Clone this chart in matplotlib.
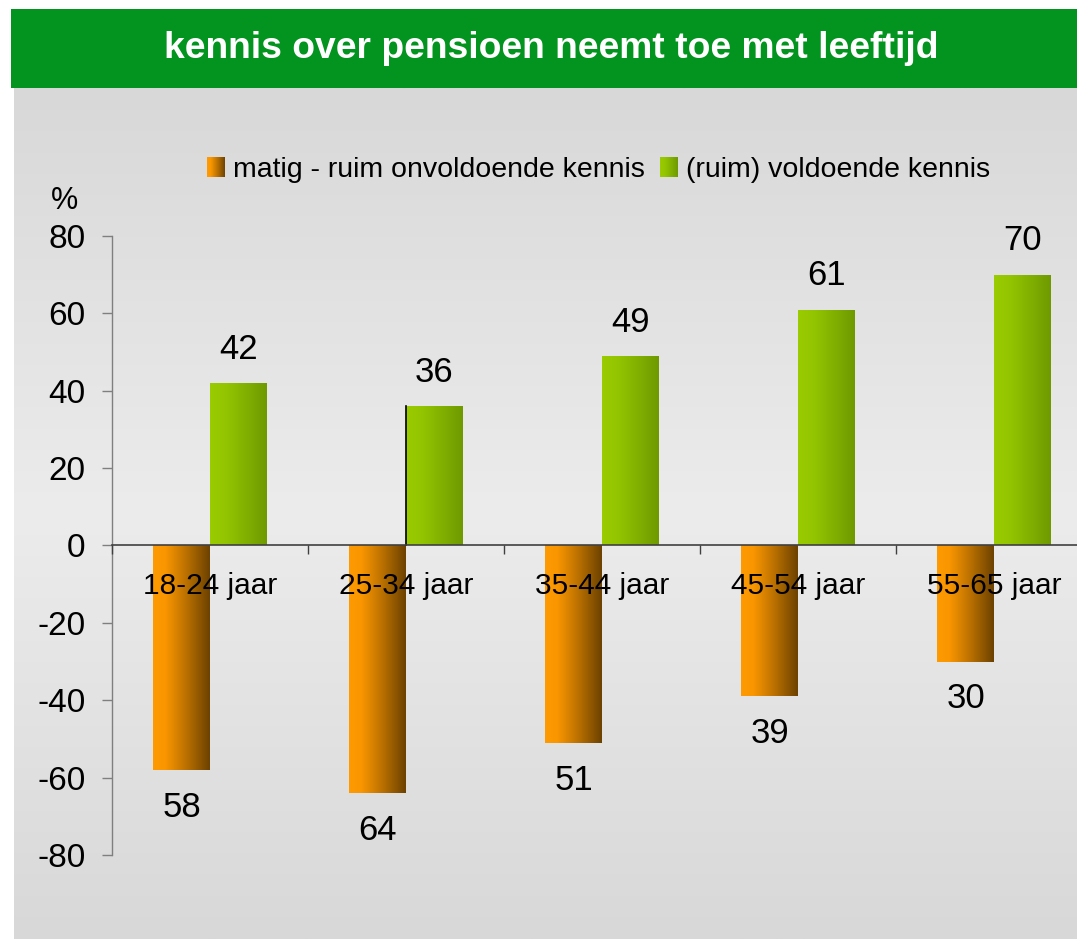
import numpy as np
import matplotlib
matplotlib.use("Agg")
import matplotlib.pyplot as plt
from matplotlib.patches import Rectangle
from matplotlib.colors import LinearSegmentedColormap

categories = ["18-24 jaar", "25-34 jaar", "35-44 jaar", "45-54 jaar", "55-65 jaar"]
insufficient = [58, 64, 51, 39, 30]
sufficient = [42, 36, 49, 61, 70]
series_names = ["matig - ruim onvoldoende kennis", "(ruim) voldoende kennis"]
yticks = [-80, -60, -40, -20, 0, 20, 40, 60, 80]
title = "kennis over pensioen neemt toe met leeftijd"

plt.rcParams['font.family'] = ['Liberation Sans', 'DejaVu Sans']

W, H = 1077, 939
fig = plt.figure(figsize=(W / 100, H / 100), dpi=100)
fig.patch.set_facecolor('white')


def fx(px):
    return px / W


def fy(py):
    return 1 - py / H


# gray gradient panel
bg = fig.add_axes([fx(14), 0, 1 - fx(14), fy(88)], zorder=-5)
bg.axis('off')
t = np.linspace(0, 1, 400)
lvl = np.interp(t, [0, 0.5, 1], [216, 236, 216]) / 255.0
bgimg = np.repeat(lvl[:, None], 2, axis=1)
bg.imshow(np.dstack([bgimg, bgimg, bgimg]), aspect='auto', extent=[0, 1, 0, 1])
bg.set_xlim(0, 1)
bg.set_ylim(0, 1)

# title banner
fig.patches.append(Rectangle((fx(11), fy(88)), 1 - fx(11), (88 - 9) / H,
                             transform=fig.transFigure, facecolor='#02941f',
                             edgecolor='none', zorder=-4))
fig.text(fx(551), fy(49), title, ha='center', va='center', color='white',
         fontsize=26.8, fontweight='bold')

ax = fig.add_axes([fx(112), fy(855), 980 / W, (855 - 236) / H])
ax.set_facecolor('none')

orange_cm = LinearSegmentedColormap.from_list(
    'o', [(0, '#ff9a00'), (0.22, '#f99600'), (0.6, '#b86f00'), (1, '#6c4200')])
green_cm = LinearSegmentedColormap.from_list(
    'g', [(0, '#9acc00'), (0.3, '#93c400'), (1, '#6e9a00')])

x = np.arange(len(categories))
w = 0.29
neg = [-v for v in insufficient]
bars_o = ax.bar(x - w / 2, neg, w, color='#ff9900', zorder=1)
bars_g = ax.bar(x + w / 2, sufficient, w, color='#99cc00', zorder=1)

gradient = np.linspace(0, 1, 256)[None, :]


def grad_fill(bars, cmap):
    for b in bars:
        bx, by, bw, bh = b.get_x(), b.get_y(), b.get_width(), b.get_height()
        im = ax.imshow(gradient, cmap=cmap, aspect='auto',
                       extent=[bx, bx + bw, min(by, by + bh), max(by, by + bh)],
                       zorder=1.5, interpolation='bicubic')
        im.set_clip_path(b)
        b.set_facecolor('none')


grad_fill(bars_o, orange_cm)
grad_fill(bars_g, green_cm)

# thin dark edge seen on left of second green bar
b2 = bars_g[1]
ax.plot([b2.get_x(), b2.get_x()], [0, b2.get_height()], color='black', lw=1.2, zorder=2)

ax.set_xlim(-0.5, len(categories) - 0.5)
ax.set_ylim(-80, 80)

# value labels
for b, v in zip(bars_g, sufficient):
    ax.annotate(str(v), (b.get_x() + b.get_width() / 2, v), xytext=(0, 17.5),
                textcoords='offset points', ha='center', va='baseline', fontsize=25)
for b, v in zip(bars_o, insufficient):
    ax.annotate(str(v), (b.get_x() + b.get_width() / 2, -v), xytext=(0, -15),
                textcoords='offset points', ha='center', va='top', fontsize=25)

# spines
for s in ['top', 'right']:
    ax.spines[s].set_visible(False)
ax.spines['left'].set_color('#7f7f7f')
ax.spines['left'].set_linewidth(1.0)
ax.spines['bottom'].set_position(('data', 0))
ax.spines['bottom'].set_color('#404040')
ax.spines['bottom'].set_linewidth(1.2)

ax.set_yticks(yticks)
ax.set_yticklabels([str(v) for v in yticks])
ax.tick_params(axis='y', direction='out', length=7.2, width=1.0, color='#7f7f7f',
               labelsize=24, pad=12)
ax.set_xticks(x)
ax.set_xticklabels(categories)
ax.tick_params(axis='x', which='major', length=0, labelsize=21.5, pad=19)
ax.set_xticks(np.arange(-0.5, len(categories), 1.0), minor=True)
ax.tick_params(axis='x', which='minor', direction='out', length=6.5, width=1.0,
               color='#404040')
ax.xaxis.set_zorder(3)

fig.text(fx(64), fy(201), '%', ha='center', va='center', fontsize=22)

# legend
handles = [Rectangle((0, 0), 1, 1, facecolor='#ff9900'),
           Rectangle((0, 0), 1, 1, facecolor='#99cc00')]
leg = fig.legend(handles, series_names, loc='center left',
                 bbox_to_anchor=(fx(207), fy(170)), bbox_transform=fig.transFigure,
                 ncol=2, frameon=False, fontsize=20.5, borderpad=0, borderaxespad=0,
                 handlelength=0.63, handleheight=0.67, handletextpad=0.28,
                 columnspacing=0.55)

fig.canvas.draw()
for p, cm in zip(leg.get_patches(), [orange_cm, green_cm]):
    bb = p.get_window_extent().transformed(fig.transFigure.inverted())
    lax = fig.add_axes([bb.x0, bb.y0, bb.width, bb.height], zorder=10)
    lax.axis('off')
    lax.imshow(gradient, cmap=cm, aspect='auto', extent=[0, 1, 0, 1])
    lax.set_xlim(0, 1)
    lax.set_ylim(0, 1)

fig.savefig('out.png', dpi=100)
